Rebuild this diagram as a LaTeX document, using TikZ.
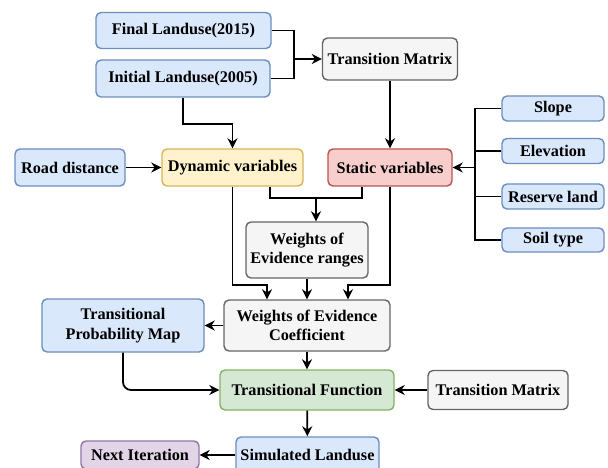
\documentclass[tikz,border=0pt]{standalone}
\usepackage{fontspec}
\setmainfont{Liberation Serif}
\usetikzlibrary{arrows.meta,calc}
\definecolor{bluefill}{HTML}{DAE8FC}
\definecolor{blueline}{HTML}{6C8EBF}
\definecolor{yellowfill}{HTML}{FFF2CC}
\definecolor{yellowline}{HTML}{D6B656}
\definecolor{redfill}{HTML}{F8CECC}
\definecolor{redline}{HTML}{B85450}
\definecolor{grayfill}{HTML}{F5F5F5}
\definecolor{grayline}{HTML}{666666}
\definecolor{greenfill}{HTML}{D5E8D4}
\definecolor{greenline}{HTML}{82B366}
\definecolor{purplefill}{HTML}{E1D5E7}
\definecolor{purpleline}{HTML}{9673A6}

\tikzset{
	box/.style={rounded corners=5bp,line width=1.4bp,align=center,inner sep=0pt,
		font=\bfseries\fontsize{16.3}{19.5}\selectfont},
	bluebox/.style={box,draw=blueline,fill=bluefill},
	yellowbox/.style={box,draw=yellowline,fill=yellowfill},
	redbox/.style={box,draw=redline,fill=redfill},
	graybox/.style={box,draw=grayline,fill=grayfill},
	greenbox/.style={box,draw=greenline,fill=greenfill},
	purplebox/.style={box,draw=purpleline,fill=purplefill},
	line/.style={black,line width=1.8bp},
	arr/.style={line,-{Stealth[length=10bp,width=10bp]}}
}

\begin{document}
\begin{tikzpicture}[x=1bp,y=-1bp]
	\useasboundingbox (0,0) rectangle (608,468);
	\node[bluebox,minimum width=175bp,minimum height=36bp] (final) at (183.5,30.5) {Final Landuse(2015)};
	\node[bluebox,minimum width=174bp,minimum height=37bp] (initial) at (183,78.5) {Initial Landuse(2005)};
	\node[graybox,minimum width=135bp,minimum height=42bp] (tmtop) at (390,59) {Transition Matrix};
	\node[bluebox,minimum width=110bp,minimum height=37bp] (road) at (70,167.5) {Road distance};
	\node[yellowbox,minimum width=141bp,minimum height=37bp] (dynamic) at (232.5,167.5) {Dynamic variables};
	\node[redbox,minimum width=124bp,minimum height=37bp] (static) at (390,167.5) {Static variables};
	\node[bluebox,minimum width=102bp,minimum height=25bp] (slope) at (553,108.5) {Slope};
	\node[bluebox,minimum width=102bp,minimum height=25bp] (elev) at (553,151) {Elevation};
	\node[bluebox,minimum width=102bp,minimum height=25bp] (reserve) at (553,196.5) {Reserve land};
	\node[bluebox,minimum width=102bp,minimum height=24bp] (soil) at (553,240) {Soil type};
	\node[graybox,minimum width=122bp,minimum height=56bp] (ranges) at (307,250) {Weights of\\Evidence ranges};
	\node[graybox,minimum width=166bp,minimum height=51bp] (coeff) at (307,325.5) {Weights of Evidence\\Coefficient};
	\node[bluebox,minimum width=162bp,minimum height=53bp] (tpm) at (123,325.5) {Transitional\\Probability Map};
	\node[greenbox,minimum width=174bp,minimum height=40bp] (tfun) at (307,390) {Transitional Function};
	\node[graybox,minimum width=140bp,minimum height=39bp] (tmbot) at (498,390) {Transition Matrix};
	\node[bluebox,minimum width=143bp,minimum height=36bp] (sim) at (307.5,455) {Simulated Landuse};
	\node[purplebox,minimum width=118bp,minimum height=28bp] (next) at (140,455) {Next Iteration};

	% landuse maps to transition matrix
	\coordinate (join) at (294,59);
	\draw[line] (final.east) -| (join) |- (initial.east);
	\draw[arr] (join) -- (tmtop.west);
	\draw[arr] (initial.south) -- ++(0,26) -| (dynamic.north);

	% static factors
	\coordinate (bus) at ($(slope.west)+(-26,0)$);
	\draw[line] (slope.west) -- (bus) -- (bus |- soil.west) -- (soil.west);
	\foreach \f in {elev,reserve}
		\draw[line] (\f.west) -- (bus |- \f.west);
	\draw[arr] (bus |- static.east) -- (static.east);

	% variables to weights of evidence
	\coordinate (mid) at (316,198);
	\draw[line] ($(dynamic.south)+(37.5,0)$) |- (mid) -| ($(static.south)+(-28,0)$);
	\draw[arr] (mid) -- (mid |- ranges.north);
	\draw[arr] (dynamic.south) |- ($(coeff.north)+(-40,-14)$) -- ($(coeff.north)+(-40,0)$);
	\draw[arr] (static.south) |- ($(coeff.north)+(41,-14)$) -- ($(coeff.north)+(41,0)$);

	\foreach \a/\b in {road/dynamic,tmtop/static,ranges/coeff,coeff/tpm,coeff/tfun,tmbot/tfun,tfun/sim,sim/next}
		\draw[arr] (\a) -- (\b);
	\draw[arr,rounded corners=8bp] (tpm.south) |- (tfun.west);
\end{tikzpicture}
\end{document}
